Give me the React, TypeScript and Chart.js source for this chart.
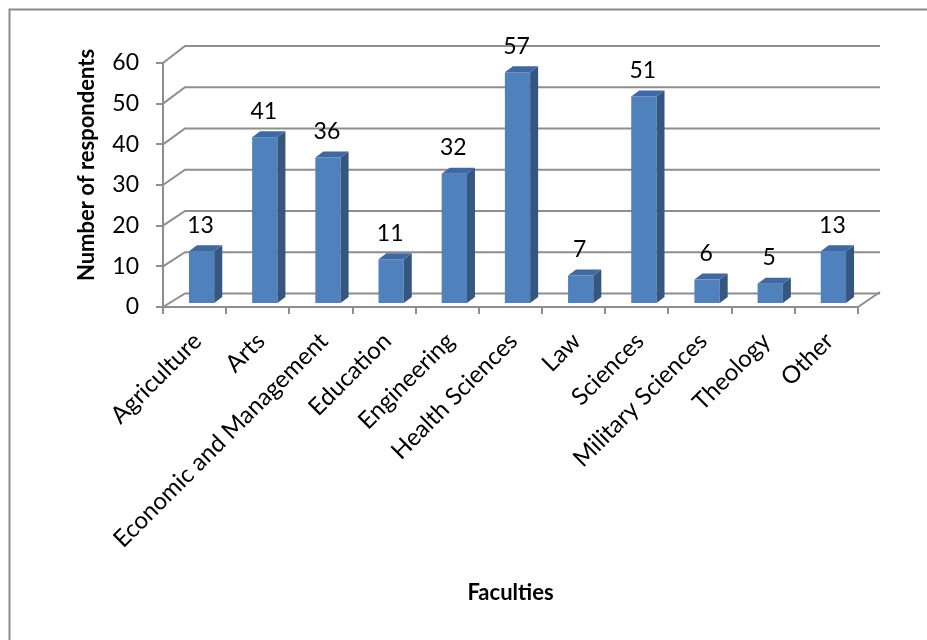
import React, { useEffect, useRef } from 'react';
import { Chart, registerables } from 'chart.js';

Chart.register(...registerables);

// ---- data ----
const categories = [
  'Agriculture',
  'Arts',
  'Economic and Management',
  'Education',
  'Engineering',
  'Health Sciences',
  'Law',
  'Sciences',
  'Military Sciences',
  'Theology',
  'Other',
];
const respondents = [13, 41, 36, 11, 32, 57, 7, 51, 6, 5, 13];
const yTicks = [0, 10, 20, 30, 40, 50, 60];
const yTitle = 'Number of respondents';
const xTitle = 'Faculties';

// ---- style ----
const FONT = 'Lato';
const GRID = '#8E8E8E';
const FRONT = '#4F81BD';
const SIDE = '#34567F';
const TOP = '#3F69A4';
const WALL_DX = 22;
const backDy = (v: number) => 13.5 + (3.5 * v) / 60;
const SHIFT_X = 7;
const SHIFT_Y = -3;
const BAR_DX = 8;
const BAR_DY = 6;

const threeD = {
  id: 'threeD',
  beforeDraw(chart: any) {
    const { ctx, width, height } = chart;
    ctx.save();
    ctx.fillStyle = '#ffffff';
    ctx.fillRect(0, 0, width, height);
    ctx.strokeStyle = '#8A8A8A';
    ctx.lineWidth = 2;
    ctx.strokeRect(9.5, 9.5, width + 40, height + 40);
    ctx.restore();
  },
  beforeDatasetsDraw(chart: any) {
    const { ctx, chartArea, scales } = chart;
    const y = scales.y;
    const L = chartArea.left;
    const R = chartArea.right;
    ctx.save();
    ctx.strokeStyle = GRID;
    ctx.lineWidth = 2;
    ctx.lineJoin = 'miter';
    y.ticks.forEach((t: any) => {
      const py = y.getPixelForValue(t.value);
      const by = py - backDy(t.value);
      ctx.beginPath();
      ctx.moveTo(L, py);
      ctx.lineTo(L + WALL_DX, by);
      ctx.lineTo(R + WALL_DX, by);
      ctx.stroke();
    });
    const p0 = y.getPixelForValue(0);
    ctx.beginPath();
    ctx.moveTo(R, p0);
    ctx.lineTo(R + WALL_DX, p0 - backDy(0) - 1.5);
    ctx.stroke();
    // y-axis title
    ctx.fillStyle = '#000';
    ctx.font = `bold 22px ${FONT}`;
    ctx.textAlign = 'center';
    ctx.textBaseline = 'middle';
    ctx.translate(87, 165);
    ctx.rotate(-Math.PI / 2);
    ctx.fillText(yTitle, 0, 0);
    ctx.restore();
  },
  beforeDatasetDraw(chart: any) {
    chart.ctx.save();
    chart.ctx.translate(SHIFT_X, SHIFT_Y);
  },
  afterDatasetDraw(chart: any) {
    chart.ctx.restore();
  },
  afterDatasetsDraw(chart: any) {
    const { ctx } = chart;
    const meta = chart.getDatasetMeta(0);
    ctx.save();
    meta.data.forEach((bar: any, i: number) => {
      const p = bar.getProps(['x', 'y', 'base', 'width'], true);
      const x1 = p.x - p.width / 2 + SHIFT_X;
      const x2 = p.x + p.width / 2 + SHIFT_X;
      const t = p.y + SHIFT_Y;
      const b = p.base + SHIFT_Y;
      ctx.fillStyle = SIDE;
      ctx.beginPath();
      ctx.moveTo(x2, t);
      ctx.lineTo(x2 + BAR_DX, t - BAR_DY);
      ctx.lineTo(x2 + BAR_DX, b - BAR_DY);
      ctx.lineTo(x2, b);
      ctx.closePath();
      ctx.fill();
      ctx.fillStyle = TOP;
      ctx.beginPath();
      ctx.moveTo(x1, t);
      ctx.lineTo(x2, t);
      ctx.lineTo(x2 + BAR_DX, t - BAR_DY);
      ctx.lineTo(x1 + BAR_DX, t - BAR_DY);
      ctx.closePath();
      ctx.fill();
      ctx.fillStyle = '#000';
      ctx.font = `23px ${FONT}`;
      ctx.textAlign = 'center';
      ctx.textBaseline = 'alphabetic';
      ctx.fillText(String(respondents[i]), (x1 + x2) / 2 - 1, t - 18.5);
    });
    ctx.restore();
  },
};

export default function App() {
  const ref = useRef<HTMLCanvasElement | null>(null);
  useEffect(() => {
    if (!ref.current) return;
    const chart = new Chart(ref.current, {
      type: 'bar',
      data: {
        labels: categories,
        datasets: [
          {
            label: xTitle,
            data: respondents,
            backgroundColor: FRONT,
            borderWidth: 0,
            barPercentage: 0.4,
            categoryPercentage: 1,
          },
        ],
      },
      options: {
        responsive: false,
        animation: false,
        devicePixelRatio: 1,
        layout: { padding: { left: 0, top: 63, right: 69, bottom: 30 } },
        plugins: { legend: { display: false }, tooltip: { enabled: false } },
        scales: {
          x: {
            type: 'category',
            offset: true,
            grid: {
              offset: true,
              drawOnChartArea: false,
              drawTicks: true,
              tickLength: 7,
              color: GRID,
              lineWidth: 2,
            },
            border: { display: true, color: GRID, width: 2 },
            ticks: {
              autoSkip: false,
              maxRotation: 45,
              minRotation: 45,
              labelOffset: 3,
              padding: 13,
              color: '#000',
              font: { family: FONT, size: 24 },
            },
            title: {
              display: true,
              text: xTitle,
              color: '#000',
              font: { family: FONT, size: 22, weight: 'bold' },
              padding: { top: 0, bottom: 4 },
            },
            afterFit: (s: any) => {
              s.height = 303;
            },
          },
          y: {
            type: 'linear',
            min: yTicks[0],
            max: yTicks[yTicks.length - 1],
            afterBuildTicks: (s: any) => {
              s.ticks = yTicks.map((v) => ({ value: v }));
            },
            grid: {
              drawOnChartArea: false,
              drawTicks: true,
              tickLength: 7,
              color: GRID,
              lineWidth: 2,
            },
            border: { display: true, color: GRID, width: 2 },
            ticks: {
              padding: 17,
              color: '#000',
              font: { family: FONT, size: 23 },
            },
            afterFit: (s: any) => {
              s.width = 163;
            },
          },
        },
      },
      plugins: [threeD],
    });
    return () => chart.destroy();
  }, []);
  return (
    <div style={{ position: 'absolute', left: 0, top: 0, width: 927, height: 640 }}>
      <canvas ref={ref} width={927} height={640} />
    </div>
  );
}
